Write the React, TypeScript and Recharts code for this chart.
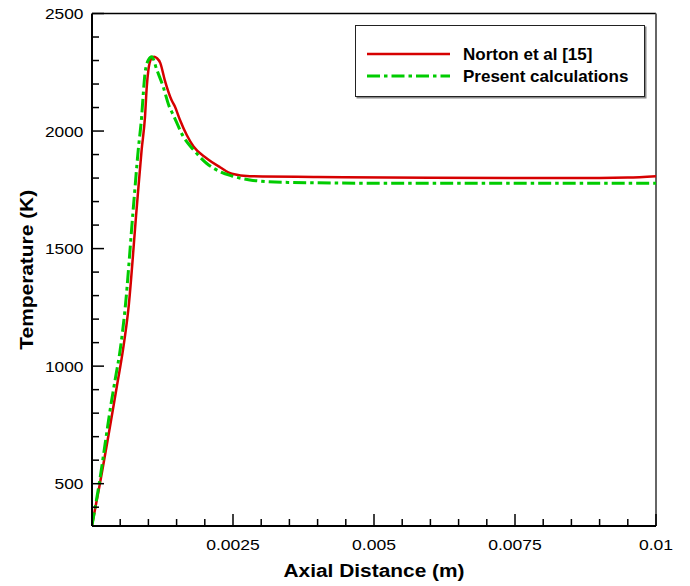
import React from 'react';
import { LineChart, Line, XAxis, YAxis, ReferenceLine, Legend } from 'recharts';

// Norton et al [15]
const nortonX = [0, 0.00014, 0.00044, 0.00055, 0.000644, 0.00079, 0.00088, 0.00094, 0.00097, 0.001, 0.00105, 0.0011, 0.00115, 0.00121, 0.00129, 0.00141, 0.00147, 0.00156, 0.00168, 0.0018, 0.00203, 0.00227, 0.00248, 0.0028, 0.004, 0.006, 0.009, 0.0095, 0.01];
const nortonT = [323, 500, 913, 1070, 1240, 1665, 1920, 2061, 2185, 2260, 2308, 2316, 2310, 2290, 2217, 2132, 2104, 2047, 1983, 1934, 1884, 1846, 1818, 1808, 1805, 1801, 1800, 1802, 1808];

// Present calculations
const presentX = [0, 0.00011, 0.00035, 0.00041, 0.0005, 0.000585, 0.00073, 0.00082, 0.00088, 0.00091, 0.00094, 0.001, 0.00106, 0.00115, 0.00126, 0.00137, 0.00144, 0.00162, 0.0018, 0.00203, 0.00227, 0.00248, 0.0028, 0.0034, 0.005, 0.01];
const presentT = [323, 474, 857, 942, 1070, 1240, 1665, 1920, 2061, 2161, 2246, 2302, 2316, 2260, 2190, 2104, 2069, 1976, 1920, 1863, 1827, 1809, 1792, 1782, 1778, 1778];

const xTicks = [0, 0.0005, 0.001, 0.0015, 0.002, 0.0025, 0.003, 0.0035, 0.004, 0.0045, 0.005, 0.0055, 0.006, 0.0065, 0.007, 0.0075, 0.008, 0.0085, 0.009, 0.0095, 0.01];
const xLabels = ['', '', '', '', '', '0.0025', '', '', '', '', '0.005', '', '', '', '', '0.0075', '', '', '', '', '0.01'];
const yTicks = [400, 500, 600, 700, 800, 900, 1000, 1100, 1200, 1300, 1400, 1500, 1600, 1700, 1800, 1900, 2000, 2100, 2200, 2300, 2400, 2500];
const yLabels = ['', '500', '', '', '', '', '1000', '', '', '', '', '1500', '', '', '', '', '2000', '', '', '', '', '2500'];

const nortonData = nortonX.map((x, i) => ({ x, t: nortonT[i] }));
const presentData = presentX.map((x, i) => ({ x, t: presentT[i] }));

const RED = '#d60000';
const GREEN = '#00cc00';
const DASH = '13 4 3.5 4';
const FONT = '"Liberation Sans", Arial, sans-serif';

const XTick = (props: any) => {
  const { x, y, index } = props;
  const label = xLabels[index];
  const len = label !== '' ? 12 : 7;
  return (
    <g>
      <line x1={x} y1={y} x2={x} y2={y - len} stroke="#000" strokeWidth={1.5} />
      {label !== '' && (
        <text transform={`translate(${x},${y + 23.5}) scale(1.17,1)`} textAnchor="middle" fontSize={15} fontFamily={FONT} fill="#000">
          {label}
        </text>
      )}
    </g>
  );
};

const YTick = (props: any) => {
  const { x, y, index } = props;
  const label = yLabels[index];
  const len = label !== '' ? 12 : 7;
  return (
    <g>
      <line x1={x} y1={y} x2={x + len} y2={y} stroke="#000" strokeWidth={1.5} />
      {label !== '' && (
        <text transform={`translate(${x - 8.5},${y + 5.5}) scale(1.12,1)`} textAnchor="end" fontSize={15.5} fontFamily={FONT} fill="#000">
          {label}
        </text>
      )}
    </g>
  );
};

const XTitle = (props: any) => {
  const vb = props.viewBox;
  return (
    <text transform={`translate(${vb.x + vb.width / 2},${vb.y + 50.5}) scale(1.13,1)`} textAnchor="middle" fontSize={18.5} fontWeight="bold" fontFamily={FONT} fill="#000">
      Axial Distance (m)
    </text>
  );
};

const YTitle = (props: any) => {
  const vb = props.viewBox;
  return (
    <text transform={`translate(32.5,${vb.y + vb.height / 2}) rotate(-90) scale(1.13,1)`} textAnchor="middle" fontSize={18.5} fontWeight="bold" fontFamily={FONT} fill="#000">
      Temperature (K)
    </text>
  );
};

const LegendBox = () => (
  <svg width={292} height={74} style={{ display: 'block' }}>
    <rect x={1.5} y={1.5} width={290} height={72} fill="#888" />
    <rect x={0.5} y={0.5} width={289} height={71} fill="#fff" stroke="#222" strokeWidth={1} />
    <line x1={12} y1={29} x2={95} y2={29} stroke={RED} strokeWidth={2.5} />
    <line x1={12} y1={51} x2={95} y2={51} stroke={GREEN} strokeWidth={3} strokeDasharray={DASH} />
    <text x={108} y={34.5} fontSize={17} fontWeight="bold" fontFamily={FONT} fill="#000">Norton et al [15]</text>
    <text x={108} y={56.5} fontSize={17} fontWeight="bold" fontFamily={FONT} fill="#000">Present calculations</text>
  </svg>
);

export default function App() {
  return (
    <div style={{ width: 690, height: 586, margin: '-8px 0 0 -8px', background: '#fff' }}>
      <LineChart width={690} height={586} margin={{ top: 13.5, right: 34, bottom: 0, left: 8 }}>
        <XAxis
          dataKey="x"
          type="number"
          domain={[0, 0.01]}
          ticks={xTicks}
          interval={0}
          tickSize={0}
          tickMargin={0}
          tickLine={false}
          tick={<XTick />}
          height={60}
          axisLine={{ stroke: '#000', strokeWidth: 2 }}
          label={<XTitle />}
          allowDataOverflow
        />
        <YAxis
          type="number"
          domain={[320, 2500]}
          ticks={yTicks}
          interval={0}
          tickSize={0}
          tickMargin={0}
          tickLine={false}
          tick={<YTick />}
          width={84}
          axisLine={{ stroke: '#000', strokeWidth: 2 }}
          label={<YTitle />}
          allowDataOverflow
        />
        <ReferenceLine y={2500} stroke="#000" strokeWidth={1.5} />
        <ReferenceLine x={0.01} stroke="#666" strokeWidth={2} />
        <Line
          data={nortonData}
          dataKey="t"
          name="Norton et al [15]"
          type="monotone"
          stroke={RED}
          strokeWidth={2.5}
          dot={false}
          activeDot={false}
          isAnimationActive={false}
        />
        <Line
          data={presentData}
          dataKey="t"
          name="Present calculations"
          type="monotone"
          stroke={GREEN}
          strokeWidth={3}
          strokeDasharray={DASH}
          dot={false}
          activeDot={false}
          isAnimationActive={false}
        />
        <Legend
          layout="horizontal"
          verticalAlign="middle"
          align="center"
          content={() => <LegendBox />}
          wrapperStyle={{ left: 355, top: 25, width: 292, height: 74 }}
        />
      </LineChart>
    </div>
  );
}
